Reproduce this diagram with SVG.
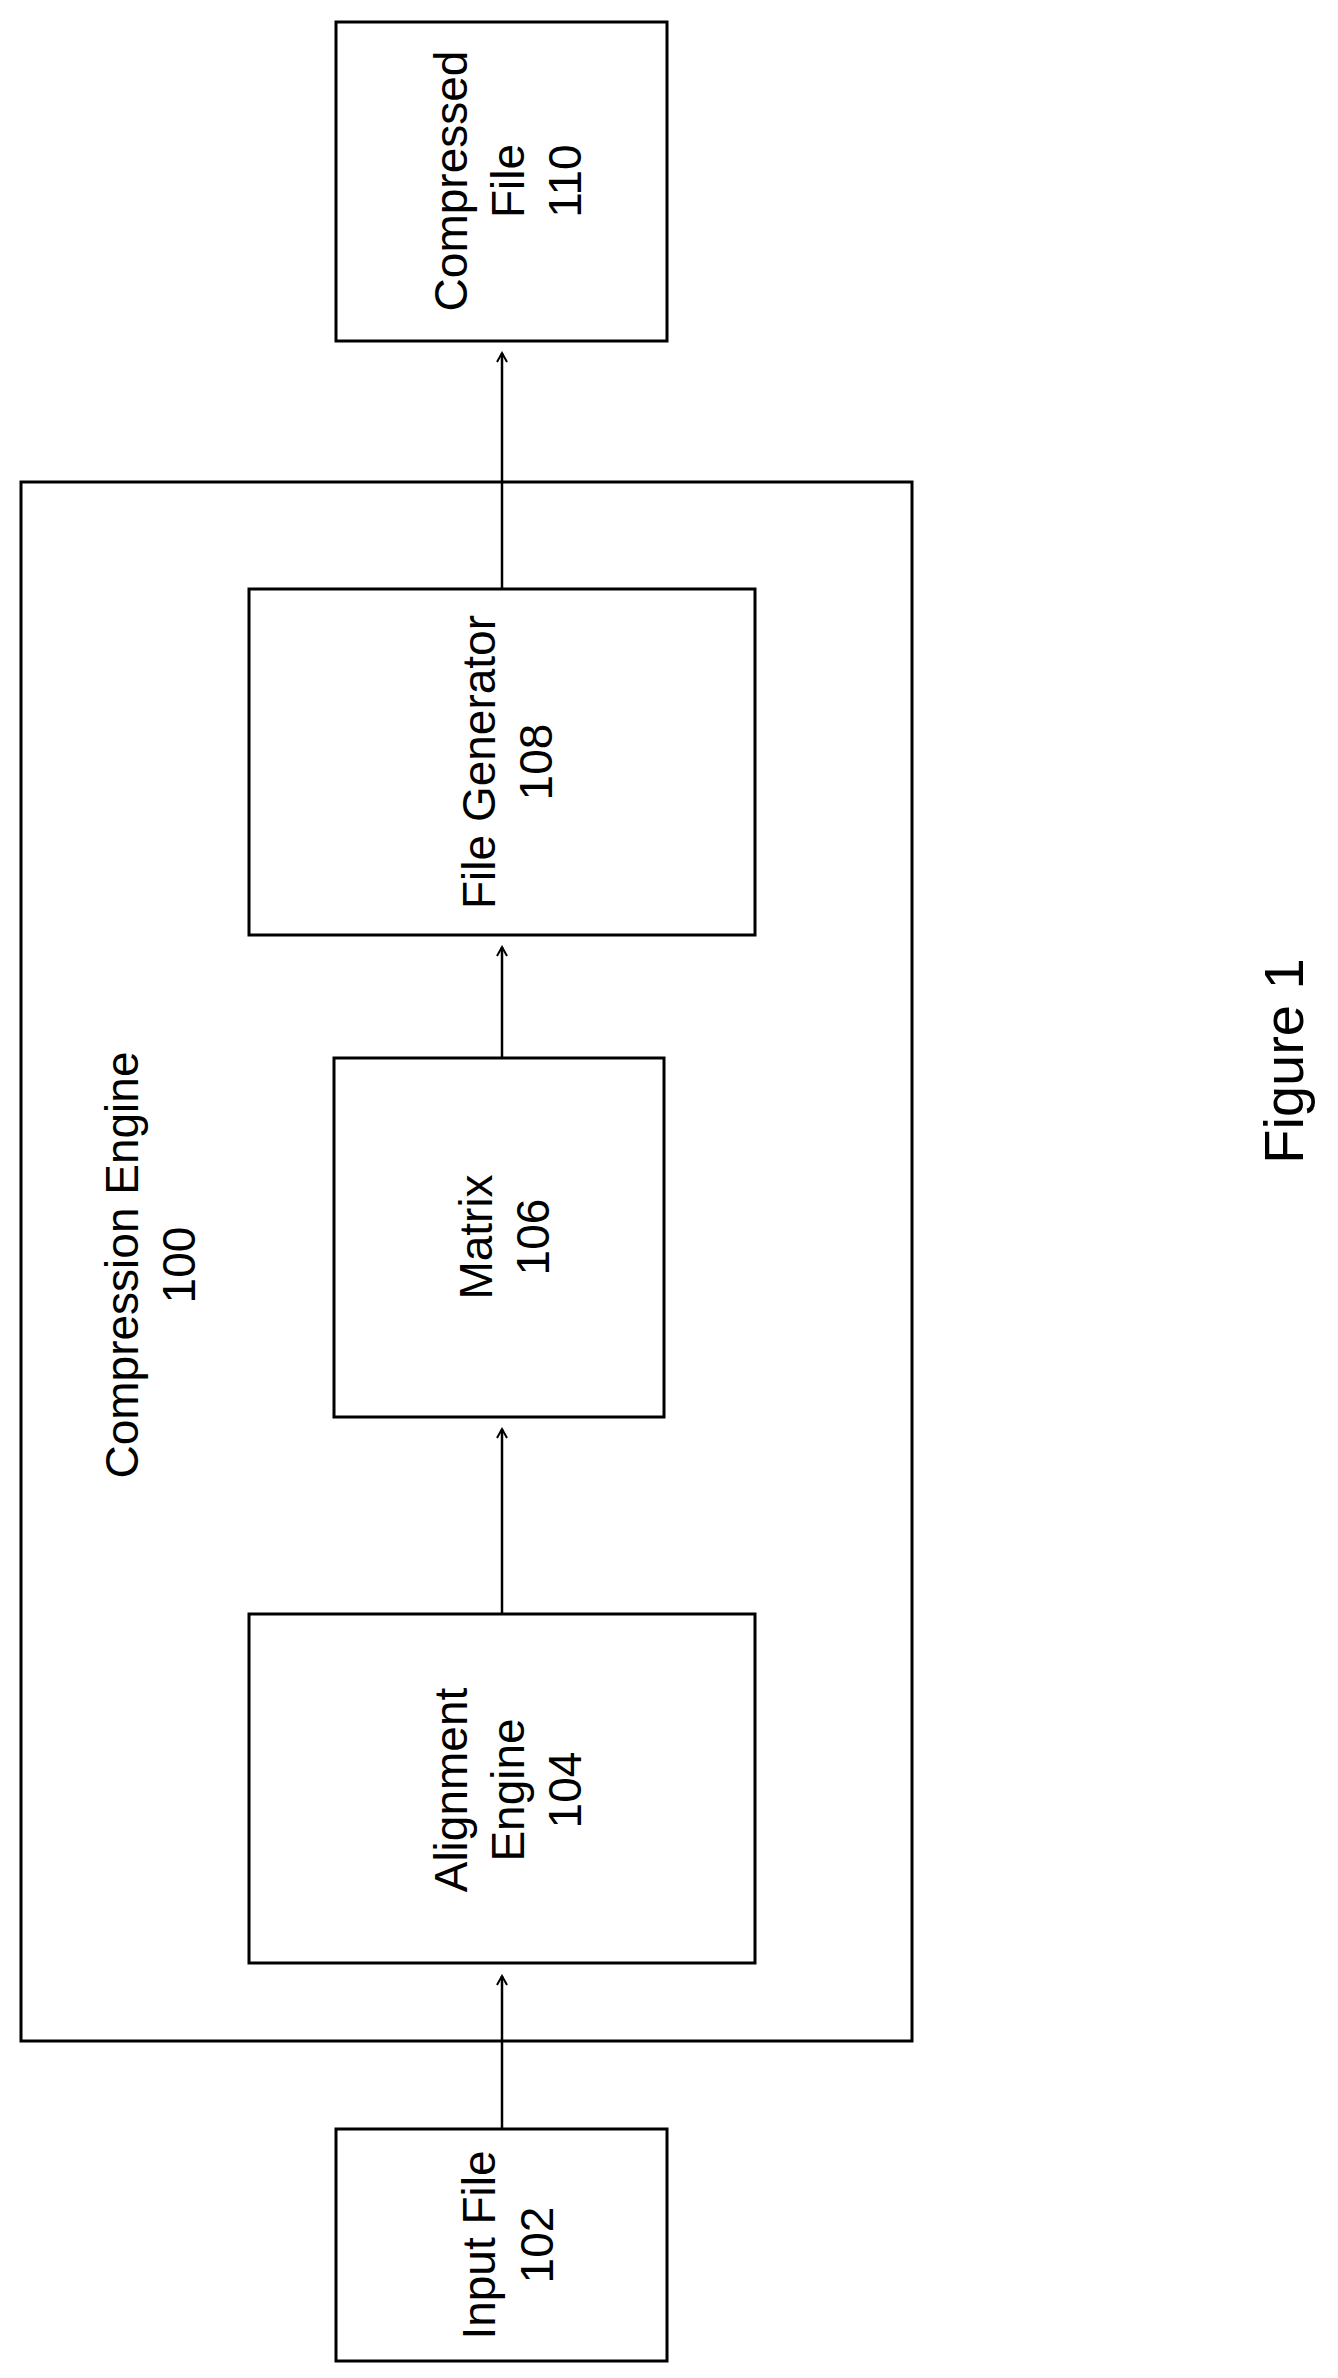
<svg xmlns="http://www.w3.org/2000/svg" width="1338" height="2378" viewBox="0 0 1338 2378">
<style>
.box{fill:none;stroke:#000;stroke-width:3}
.t{font-family:"Liberation Sans",Arial,sans-serif;font-size:46px;fill:#000;text-anchor:middle}
.c{stroke:#000;stroke-width:2.5;fill:none}
</style>
<defs>
<marker id="ah" markerWidth="12" markerHeight="12" refX="10" refY="6" orient="auto" markerUnits="userSpaceOnUse">
<path d="M1,1 L10,6 L1,11" fill="none" stroke="#000" stroke-width="2"/>
</marker>
</defs>
<rect width="1338" height="2378" fill="#fff"/>
<g id="engine100">
<rect class="box" x="21" y="482" width="891" height="1559"/>
<text class="t" transform="translate(167,1265) rotate(-90)"><tspan x="0" y="-29">Compression Engine</tspan><tspan x="0" y="28">100</tspan></text>
</g>
<g id="compressed110">
<rect class="box" x="336" y="22" width="331" height="319"/>
<text class="t" transform="translate(502,181) rotate(-90)"><tspan x="0" y="-35">Compressed</tspan><tspan x="0" y="22">File</tspan><tspan x="0" y="79">110</tspan></text>
</g>
<g id="filegen108">
<rect class="box" x="249" y="589" width="506" height="346"/>
<text class="t" transform="translate(502,762) rotate(-90)"><tspan x="0" y="-7">File Generator</tspan><tspan x="0" y="50">108</tspan></text>
</g>
<g id="matrix106">
<rect class="box" x="334" y="1058" width="330" height="359"/>
<text class="t" transform="translate(499,1237) rotate(-90)"><tspan x="0" y="-7">Matrix</tspan><tspan x="0" y="50">106</tspan></text>
</g>
<g id="align104">
<rect class="box" x="249" y="1614" width="506" height="349"/>
<text class="t" transform="translate(502,1790) rotate(-90)"><tspan x="0" y="-35">Alignment</tspan><tspan x="0" y="22">Engine</tspan><tspan x="0" y="79">104</tspan></text>
</g>
<g id="input102">
<rect class="box" x="336" y="2129" width="331" height="232"/>
<text class="t" transform="translate(502,2245) rotate(-90)"><tspan x="0" y="-7">Input File</tspan><tspan x="0" y="51">102</tspan></text>
</g>
<g id="connectors">
<line class="c" x1="502" y1="2129" x2="502" y2="1976" marker-end="url(#ah)"/>
<line class="c" x1="502" y1="1614" x2="502" y2="1429" marker-end="url(#ah)"/>
<line class="c" x1="502" y1="1058" x2="502" y2="947" marker-end="url(#ah)"/>
<line class="c" x1="502" y1="589" x2="502" y2="353" marker-end="url(#ah)"/>
</g>
<text class="t" style="font-size:56px" transform="translate(1303,1061) rotate(-90)" x="0" y="0">Figure 1</text>
</svg>
